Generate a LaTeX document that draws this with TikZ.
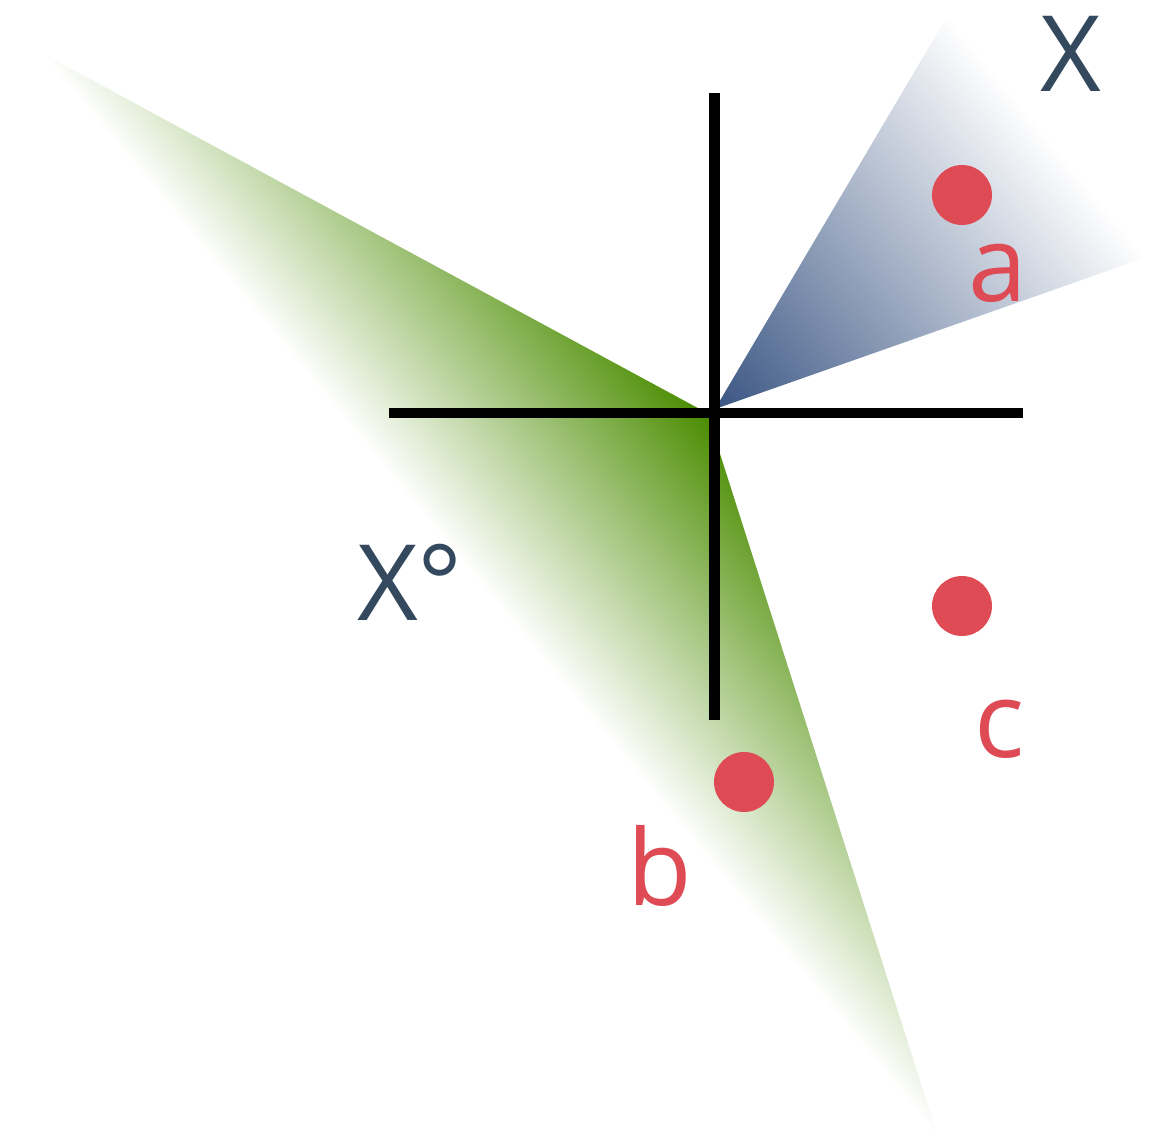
\documentclass[tikz,border=0pt]{standalone}
\usepackage{fontspec}
\setmainfont{Open Sans}
\definecolor{ptred}{HTML}{DE4B55}
\definecolor{conetext}{HTML}{34495E}
\definecolor{coneblue}{HTML}{3A5583}
\definecolor{conegreen}{HTML}{4A8C00}
\tikzset{
  dot/.style={circle, fill=ptred, inner sep=0pt, minimum size=1.2cm},
  ptlabel/.style={text=ptred, anchor=base, inner sep=0pt, font=\fontsize{60}{72}\selectfont},
  conelabel/.style={text=conetext, anchor=base, inner sep=0pt, font=\fontsize{60}{72}\selectfont},
  axis/.style={line width=6.2pt}
}
\begin{document}
\begin{tikzpicture}[x=0.02cm, y=0.02cm]
\useasboundingbox (0,0) rectangle (1173,1137);
% polar cone
\begin{scope}
  \clip (707,724) -- (40,1085) -- (938,0) -- cycle;
  \shade[left color=conegreen, right color=white,
    transform canvas={shift={(707,724)}, rotate=219.6}] (0,-1600) rectangle (284,1600);
\end{scope}
% cone X
\begin{scope}
  \clip (715,728) -- (948,1122) -- (1147,880) -- cycle;
  \shade[left color=coneblue, right color=white,
    transform canvas={shift={(715,728)}, rotate=39.4}] (0,-800) rectangle (430,800);
\end{scope}
% axes
\coordinate (west) at (389,724);
\coordinate (east) at (1023,724);
\coordinate (north) at (714.5,1044);
\coordinate (south) at (714.5,417);
\draw[axis] (west) -- (east);
\draw[axis] (south) -- (north);
% points
\node[dot] (a) at (962,942) {};
\node[dot] (c) at (962,531) {};
\node[dot] (b) at (744,355) {};
\node[ptlabel] (la) at (998,835) {a};
\node[ptlabel] (lc) at (1000,380) {c};
\node[ptlabel] (lb) at (660,232) {b};
\node[conelabel] (lX) at (1071,1045) {X};
\node[conelabel] (lXo) at (410,517) {X°};
\end{tikzpicture}
\end{document}
